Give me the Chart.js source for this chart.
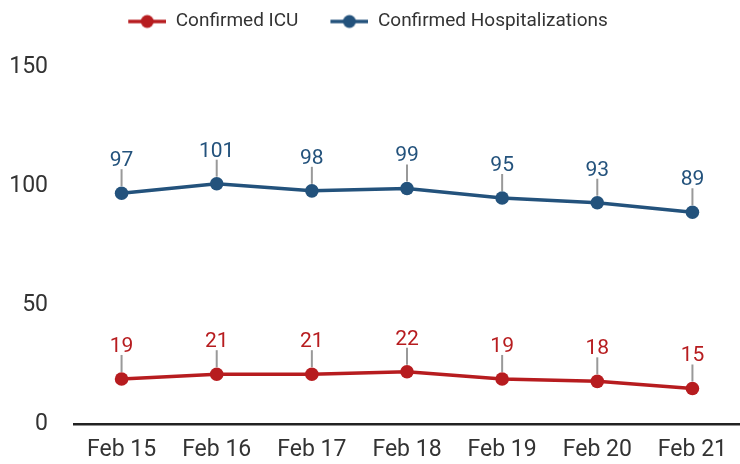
<!DOCTYPE html>
<html lang="en">
<head>
<meta charset="UTF-8">
<title>Confirmed ICU and Hospitalizations</title>
<style>
    html, body { margin: 0; padding: 0; background: #fff; }
    #wrap { width: 740px; height: 464px; position: relative; }
</style>
<script src="https://cdn.jsdelivr.net/npm/chart.js"></script>
</head>
<body>
<div id="wrap"><canvas id="chart"></canvas></div>
<script>
const days = ['Feb 15', 'Feb 16', 'Feb 17', 'Feb 18', 'Feb 19', 'Feb 20', 'Feb 21'];
const icu = [19, 21, 21, 22, 19, 18, 15];
const hospital = [97, 101, 98, 99, 95, 93, 89];
const yTicks = [0, 50, 100, 150];

const RED = '#b71c1f';
const BLUE = '#23527c';
const SW = 38;      // swatch line length
const SW_GAP = 20;  // blank space left of each swatch (gap between legend items)

// line + dot swatch for the legend
function swatch(color) {
    const c = document.createElement('canvas');
    c.width = SW + SW_GAP; c.height = 16;
    const g = c.getContext('2d');
    g.strokeStyle = color; g.lineWidth = 3.5;
    g.beginPath(); g.moveTo(SW_GAP, 8); g.lineTo(SW_GAP + SW, 8); g.stroke();
    g.fillStyle = color;
    g.beginPath(); g.arc(SW_GAP + SW / 2, 8, 6.5, 0, Math.PI * 2); g.fill();
    return c;
}

// extra room under the legend, and pull it left to cancel the blank lead-in
const legendGap = {
    id: 'legendGap',
    beforeInit(chart) {
        const fit = chart.legend.fit;
        chart.legend.fit = function () {
            fit.call(this);
            this.height += 26;
        };
    },
    afterLayout(chart) {
        chart.legend.left -= 12;
        chart.legend.right -= 12;
    }
};

// value labels with a short grey leader line above each point
const pointLabels = {
    id: 'pointLabels',
    afterDatasetsDraw(chart) {
        const ctx = chart.ctx;
        ctx.save();
        chart.data.datasets.forEach((ds, i) => {
            chart.getDatasetMeta(i).data.forEach((pt, j) => {
                ctx.strokeStyle = '#999';
                ctx.lineWidth = 2;
                ctx.beginPath();
                ctx.moveTo(pt.x, pt.y - 7);
                ctx.lineTo(pt.x, pt.y - 24);
                ctx.stroke();
                ctx.fillStyle = ds.borderColor;
                ctx.font = '21px Roboto';
                ctx.textAlign = 'center';
                ctx.textBaseline = 'alphabetic';
                ctx.fillText(ds.data[j], pt.x, pt.y - 27);
            });
        });
        ctx.restore();
    }
};

new Chart(document.getElementById('chart'), {
    type: 'line',
    data: {
        labels: days,
        datasets: [
            { label: 'Confirmed ICU', data: icu, borderColor: RED, backgroundColor: RED },
            { label: 'Confirmed Hospitalizations', data: hospital, borderColor: BLUE, backgroundColor: BLUE }
        ]
    },
    options: {
        responsive: true,
        maintainAspectRatio: false,
        animation: false,
        layout: { padding: 0, autoPadding: false },
        elements: {
            line: { borderWidth: 3.5, tension: 0 },
            point: { radius: 6.8, hoverRadius: 6.8, borderWidth: 0 }
        },
        scales: {
            x: {
                offset: true,
                afterFit(scale) { scale.height = 39; scale.paddingLeft = 0; scale.paddingRight = 0; },
                grid: { display: false, drawTicks: false, offset: true },
                border: { display: true, color: '#222', width: 2.5 },
                ticks: { color: '#333', font: { family: 'Roboto', size: 23 }, padding: 12 }
            },
            y: {
                min: 0, max: 150,
                afterBuildTicks(scale) { scale.ticks = yTicks.map(v => ({ value: v })); },
                afterFit(scale) { scale.width = 74; },
                grid: { display: false, drawTicks: false },
                border: { display: false },
                ticks: { color: '#333', font: { family: 'Roboto', size: 23 }, padding: 26 }
            }
        },
        plugins: {
            tooltip: { enabled: false },
            legend: {
                position: 'top',
                labels: {
                    usePointStyle: true,
                    pointStyleWidth: SW + SW_GAP,
                    padding: 12,
                    color: '#333',
                    font: { family: 'Roboto', size: 19 },
                    generateLabels(chart) {
                        return chart.data.datasets.map((ds, i) => ({
                            text: ds.label,
                            pointStyle: swatch(ds.borderColor),
                            fillStyle: ds.borderColor,
                            strokeStyle: ds.borderColor,
                            fontColor: '#333',
                            lineWidth: 0,
                            datasetIndex: i
                        }));
                    }
                }
            }
        }
    },
    plugins: [legendGap, pointLabels]
});
</script>
</body>
</html>
